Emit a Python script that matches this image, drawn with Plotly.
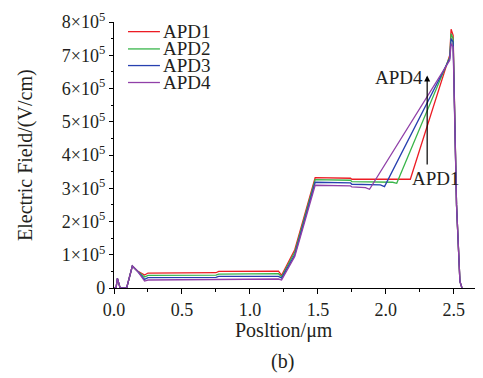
import plotly.graph_objects as go

# ---------------- data ----------------
names = ["APD1", "APD2", "APD3", "APD4"]
colors = ["#ec1c24", "#39b54a", "#2740b0", "#9040a8"]

common_x = [0, 0.015, 0.025, 0.045, 0.093, 0.135, 0.17]
common_y = [0, 0, 29000, 0, 0, 66000, 52000]

tail_x = [2.52, 2.545, 2.56]
tail_y = [250000, 20000, 0]

apd1_x = [0.21, 0.225, 0.25, 0.75, 0.77, 1.21, 1.233, 1.33, 1.48, 1.74, 1.75, 2.18, 2.47, 2.48, 2.495]
apd1_y = [44000, 39000, 45000, 46000, 50000, 51000, 38000, 115000, 332000, 330000, 327000, 327000, 700000, 778000, 760000]

apd2_x = [0.21, 0.225, 0.25, 0.75, 0.77, 1.21, 1.233, 1.33, 1.48, 1.74, 1.75, 2.05, 2.08, 2.47, 2.48, 2.495]
apd2_y = [38000, 33000, 38000, 39000, 42000, 43000, 34000, 108000, 326000, 324000, 320000, 318000, 315000, 695000, 765000, 750000]

apd3_x = [0.21, 0.225, 0.25, 0.75, 0.77, 1.21, 1.233, 1.33, 1.48, 1.74, 1.75, 1.96, 1.99, 2.47, 2.48, 2.495]
apd3_y = [32000, 26000, 31000, 32000, 35000, 35000, 30000, 100000, 318000, 316000, 312000, 310000, 305000, 690000, 750000, 740000]

apd4_x = [0.21, 0.225, 0.25, 0.75, 0.77, 1.21, 1.233, 1.33, 1.48, 1.74, 1.75, 1.85, 1.88, 2.47, 2.48, 2.495]
apd4_y = [27000, 21000, 24000, 25000, 27000, 27000, 24000, 95000, 309000, 307000, 304000, 302000, 297000, 685000, 735000, 725000]

series_x = [apd1_x, apd2_x, apd3_x, apd4_x]
series_y = [apd1_y, apd2_y, apd3_y, apd4_y]

ytick_vals = [0, 100000, 200000, 300000, 400000, 500000, 600000, 700000, 800000]
ytick_text = ["0"] + [f"{i}×10<sup>5</sup>" for i in range(1, 9)]
xtick_vals = [0.0, 0.5, 1.0, 1.5, 2.0, 2.5]
xtick_text = ["0.0", "0.5", "1.0", "1.5", "2.0", "2.5"]

# ---------------- figure ----------------
FONT = "Liberation Serif"
TXT = "#231f20"

fig = go.Figure()
for name, c, sx, sy in zip(names, colors, series_x, series_y):
    fig.add_trace(go.Scatter(
        x=common_x + sx + tail_x,
        y=common_y + sy + tail_y,
        mode="lines", name=name,
        line=dict(color=c, width=1.3),
        showlegend=False,
    ))

# manual legend (tight spacing as in the reference)
leg_y = [771000, 719000, 669000, 618000]
for name, c, ly in zip(names, colors, leg_y):
    fig.add_shape(type="line", xref="x", yref="y", x0=0.103, x1=0.338, y0=ly, y1=ly,
                  line=dict(color=c, width=1.3))
    fig.add_annotation(x=0.345, y=ly, xref="x", yref="y", text=name, showarrow=False,
                       xanchor="left", yanchor="middle",
                       font=dict(family=FONT, size=19, color=TXT))

# arrow + labels
fig.add_annotation(x=2.304, y=639000, ax=2.304, ay=367000, xref="x", yref="y",
                   axref="x", ayref="y", text="", showarrow=True,
                   arrowhead=2, arrowsize=1, arrowwidth=1.2, arrowcolor="#000000")
fig.add_annotation(x=2.10, y=634000, xref="x", yref="y", text="APD4", showarrow=False,
                   font=dict(family=FONT, size=19, color=TXT))
fig.add_annotation(x=2.37, y=328000, xref="x", yref="y", text="APD1", showarrow=False,
                   font=dict(family=FONT, size=19, color=TXT))

# axis titles
fig.add_annotation(x=0.463, y=-0.161, xref="paper", yref="paper", text="Posltion/μm",
                   showarrow=False, yanchor="middle",
                   font=dict(family=FONT, size=20, color=TXT))
fig.add_annotation(x=0.458, y=-0.275, xref="paper", yref="paper", text="(b)",
                   showarrow=False, yanchor="middle",
                   font=dict(family=FONT, size=20, color=TXT))
fig.add_annotation(x=-0.2425, y=0.5, xref="paper", yref="paper",
                   text="Electric Field/(V/cm)", textangle=-90,
                   showarrow=False, xanchor="center", yanchor="middle",
                   font=dict(family=FONT, size=20, color=TXT))

fig.update_layout(
    width=475, height=370,
    margin=dict(l=106, r=2, t=7, b=90),
    paper_bgcolor="white", plot_bgcolor="white",
    font=dict(family=FONT, size=17, color=TXT),
    xaxis=dict(range=[0, 2.7], tickvals=xtick_vals, ticktext=xtick_text,
               tickfont=dict(family=FONT, size=18, color=TXT),
               ticklabeloverflow="allow",
               showline=True, linecolor="#000000", linewidth=1.2,
               ticks="outside", ticklen=5, tickwidth=1.1, tickcolor="#000000",
               minor=dict(dtick=0.25, tick0=0, ticks="outside", ticklen=3,
                          tickcolor="#000000", tickwidth=1),
               showgrid=False, zeroline=False, mirror=False),
    yaxis=dict(range=[0, 800000], tickvals=ytick_vals, ticktext=ytick_text,
               tickfont=dict(family=FONT, size=18, color=TXT),
               ticklabeloverflow="allow",
               showline=True, linecolor="#000000", linewidth=1.2,
               ticks="outside", ticklen=4, tickwidth=1.1, tickcolor="#000000",
               minor=dict(dtick=50000, tick0=0, ticks="outside", ticklen=2,
                          tickcolor="#000000", tickwidth=1),
               showgrid=False, zeroline=False, mirror=False),
)

fig.write_html("out.html")
